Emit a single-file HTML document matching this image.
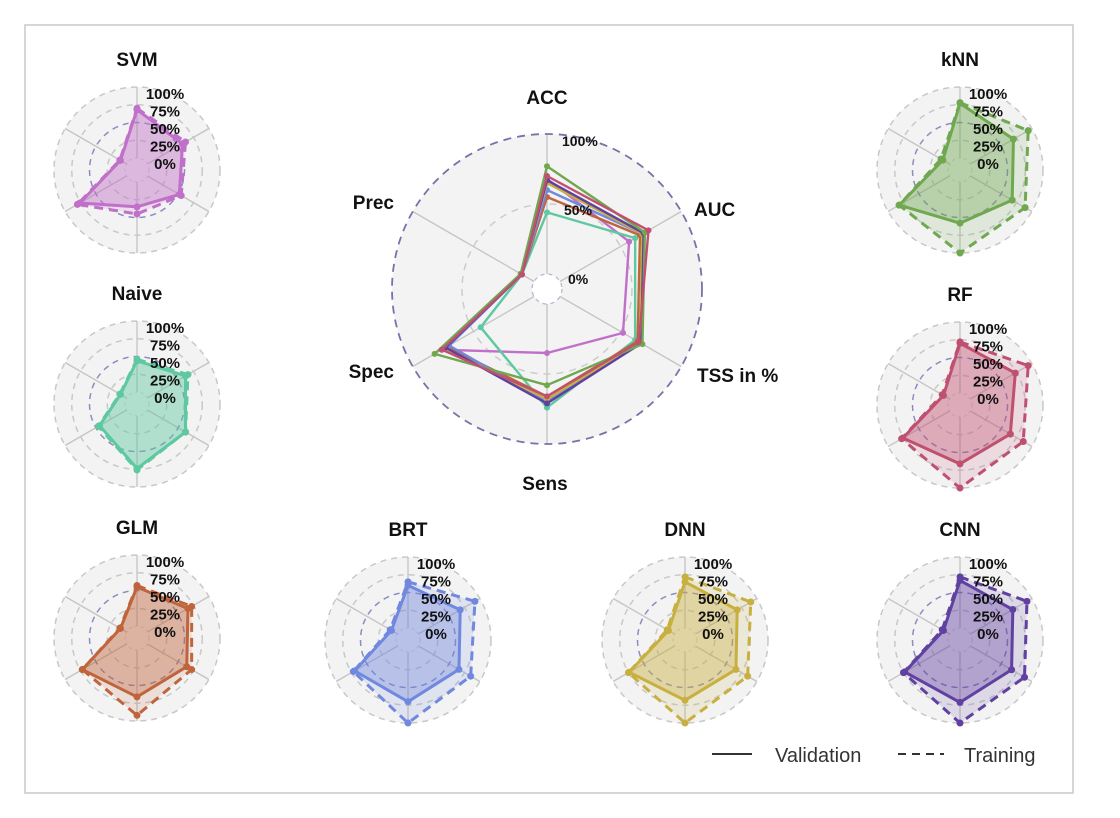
<!DOCTYPE html>
<html><head><meta charset="utf-8">
<style>
html,body{margin:0;padding:0;background:#fff;width:1120px;height:818px;overflow:hidden}
svg{display:block}
text{font-family:"Liberation Sans",Arial,sans-serif}
</style></head>
<body>
<svg id="chart" width="1120" height="818" viewBox="0 0 1120 818" xmlns="http://www.w3.org/2000/svg">
<rect x="25" y="25" width="1048" height="768" fill="#fff" stroke="#c8c8c8" stroke-width="1.5"/>
</svg>
<script>
const axes = ["ACC","AUC","TSS in %","Sens","Spec","Prec"];
const models = ["SVM","Naive","GLM","BRT","DNN","CNN","kNN","RF"];
const colors = ["#c070c8","#5ec8a0","#c0643c","#7088e0","#c8b040","#6040a0","#70a850","#c05070"];
const valSVM   = [0.68,0.57,0.52,0.35,0.76,0.10];
const valNaive = [0.44,0.62,0.62,0.74,0.44,0.10];
const valGLM   = [0.55,0.66,0.64,0.66,0.72,0.10];
const valBRT   = [0.60,0.68,0.66,0.70,0.70,0.10];
const valDNN   = [0.65,0.68,0.66,0.68,0.74,0.10];
const valCNN   = [0.67,0.69,0.67,0.71,0.73,0.10];
const valKNN   = [0.77,0.70,0.68,0.58,0.82,0.11];
const valRF    = [0.70,0.73,0.65,0.66,0.76,0.10];
const trSVM    = [0.70,0.62,0.55,0.45,0.80,0.11];
const trNaive  = [0.46,0.66,0.62,0.76,0.46,0.11];
const trGLM    = [0.57,0.72,0.72,0.92,0.72,0.11];
const trBRT    = [0.65,0.92,0.85,1.00,0.72,0.12];
const trDNN    = [0.72,0.90,0.85,1.00,0.75,0.12];
const trCNN    = [0.72,0.92,0.88,1.00,0.75,0.12];
const trKNN    = [0.78,0.94,0.89,1.00,0.82,0.14];
const trRF     = [0.72,0.94,0.86,1.00,0.78,0.12];
const tickLabels = ["100%","75%","50%","25%","0%"];
const mainTicks = ["100%","50%","0%"];

const validation = [valSVM,valNaive,valGLM,valBRT,valDNN,valCNN,valKNN,valRF];
const training = [trSVM,trNaive,trGLM,trBRT,trDNN,trCNN,trKNN,trRF];

const NS="http://www.w3.org/2000/svg";
const svg=document.getElementById('chart');
function mk(tag,attrs,parent){const e=document.createElementNS(NS,tag);for(const k in attrs)e.setAttribute(k,attrs[k]);(parent||svg).appendChild(e);return e;}
function ang(i){return (90-60*i)*Math.PI/180;}
function pt(cx,cy,r0,R,v,i){const r=r0+(R-r0)*v;return [cx+r*Math.cos(ang(i)),cy-r*Math.sin(ang(i))];}
function grid(g,cx,cy,r0,R,small){
  mk('circle',{cx,cy,r:R,fill:'#f3f3f3',stroke:'none'},g);
  for(let i=0;i<6;i++){const a=pt(cx,cy,r0,R,0,i),b=pt(cx,cy,r0,R,1,i);
    mk('line',{x1:a[0],y1:a[1],x2:b[0],y2:b[1],stroke:'#c4c4c4','stroke-width':1.3},g);}
  if(small){
    [0.25,0.75,1].forEach(f=>mk('circle',{cx,cy,r:r0+(R-r0)*f,fill:'none',stroke:'#c8c8c8','stroke-width':1.5,'stroke-dasharray':'6,5'},g));
    mk('circle',{cx,cy,r:r0+(R-r0)*0.5,fill:'none',stroke:'#8c8cc0','stroke-width':1.5,'stroke-dasharray':'6,5'},g);
    mk('circle',{cx,cy,r:r0,fill:'none',stroke:'#d0d0d0','stroke-width':1,'stroke-dasharray':'3,3'},g);
  } else {
    mk('circle',{cx,cy,r:r0+(R-r0)*0.5,fill:'none',stroke:'#cccccc','stroke-width':1.5,'stroke-dasharray':'7,6'},g);
    mk('circle',{cx,cy,r:r0,fill:'#fff',stroke:'#b8b8d0','stroke-width':1.3,'stroke-dasharray':'4,4'},g);
    mk('circle',{cx,cy,r:R,fill:'none',stroke:'#7474a8','stroke-width':1.8,'stroke-dasharray':'8,6'},g);
  }
}
function poly(g,cx,cy,r0,R,vals,color,opts){
  const pts=vals.map((v,i)=>pt(cx,cy,r0,R,v,i));
  const p=mk('polygon',{points:pts.map(q=>q.join(',')).join(' '),fill:opts.fill||'none','fill-opacity':opts.fo||0,stroke:color,'stroke-width':opts.w,'stroke-linejoin':'round'},g);
  if(opts.dash)p.setAttribute('stroke-dasharray',opts.dash);
  
  
  pts.forEach(q=>{const c=mk('circle',{cx:q[0],cy:q[1],r:opts.mr,fill:color},g);
    
    });
}

// main chart
const mg=mk('g',{});


const MCX=547,MCY=289,MR0=15,MR=155;
grid(mg,MCX,MCY,MR0,MR,false);
models.forEach((m,k)=>poly(mg,MCX,MCY,MR0,MR,validation[k],colors[k],{w:2.4,mr:3,name:'main-series-'+m.toLowerCase()}));
const labelPos=[[547,104,'middle'],[694,216,'start'],[697,382,'start'],[545,490,'middle'],[394,378,'end'],[394,209,'end']];
axes.forEach((a,i)=>{const t=mk('text',{x:labelPos[i][0],y:labelPos[i][1],'text-anchor':labelPos[i][2],'font-size':19,'font-weight':'bold',fill:'#111'},mg);t.textContent=a;
  });
[[562,146],[564,215],[568,284]].forEach((p,i)=>{const t=mk('text',{x:p[0],y:p[1],'font-size':14,'font-weight':'bold',fill:'#111'},mg);t.textContent=mainTicks[i];
  });

// small charts
const smallPos=[[137,170],[137,404],[137,638],[408,640],[685,640],[960,640],[960,170],[960,405]];
const SR0=12,SR=83;
models.forEach((m,k)=>{
  const [cx,cy]=smallPos[k];
  const g=mk('g',{});
  
  
  grid(g,cx,cy,SR0,SR,true);
  poly(g,cx,cy,SR0,SR,training[k],colors[k],{w:3,mr:3.5,dash:'9,6',fill:colors[k],fo:0.15,name:m.toLowerCase()+'-training'});
  poly(g,cx,cy,SR0,SR,validation[k],colors[k],{w:3,mr:3.5,fill:colors[k],fo:0.35,name:m.toLowerCase()+'-validation'});
  const t=mk('text',{x:cx,y:cy-104,'text-anchor':'middle','font-size':19,'font-weight':'bold',fill:'#111'},g);t.textContent=m;
  
  tickLabels.forEach((l,i)=>{const tt=mk('text',{x:cx+28,y:cy-71+i*17.5,'text-anchor':'middle','font-size':15,'font-weight':'bold',fill:'#111'},g);tt.textContent=l;
    });
});

// legend
const lg=mk('g',{});


mk('line',{x1:712,y1:754,x2:752,y2:754,stroke:'#333','stroke-width':2},lg);
let t1=mk('text',{x:775,y:762,'font-size':20,fill:'#333'},lg);t1.textContent='Validation';

mk('line',{x1:898,y1:754,x2:944,y2:754,stroke:'#333','stroke-width':2,'stroke-dasharray':'8,6'},lg);
let t2=mk('text',{x:964,y:762,'font-size':20,fill:'#333'},lg);t2.textContent='Training';

</script>
</body></html>
